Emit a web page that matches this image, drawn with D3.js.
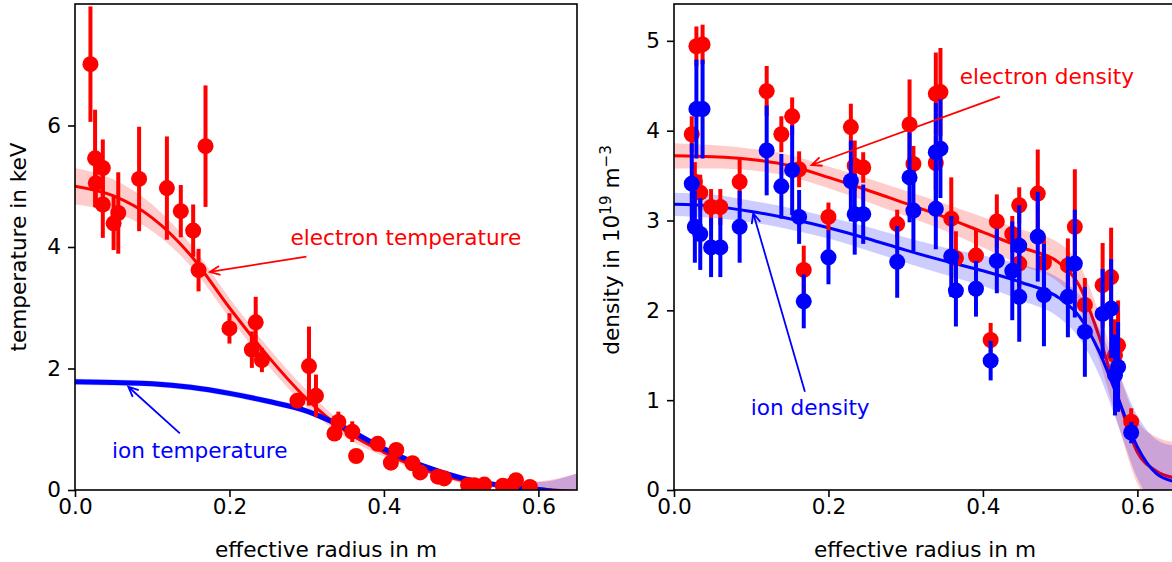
<!DOCTYPE html>
<html>
<head>
<meta charset="utf-8">
<script src="https://cdn.jsdelivr.net/npm/d3@7"></script>
<style>
  body { margin: 0; background: #fff; }
  svg { font-family: "DejaVu Sans", sans-serif; }
</style>
</head>
<body>
<svg id="chart" width="1172" height="562"></svg>
<script>
// ---- left panel: temperatures (keV) ----
const teR   = [0.020, 0.026, 0.036, 0.027, 0.036, 0.050, 0.056, 0.083, 0.119, 0.137, 0.153, 0.169, 0.160, 0.200, 0.234, 0.229, 0.242, 0.303, 0.288, 0.312, 0.341, 0.336, 0.359, 0.364, 0.392, 0.416, 0.409, 0.437, 0.447, 0.470, 0.478, 0.509, 0.517, 0.530, 0.554, 0.565, 0.571, 0.589];
const teVal = [7.01, 5.46, 5.30, 5.05, 4.70, 4.39, 4.56, 5.12, 4.97, 4.59, 4.27, 5.66, 3.62, 2.66, 2.76, 2.31, 2.14, 2.04, 1.47, 1.55, 1.12, 0.93, 0.96, 0.56, 0.76, 0.66, 0.45, 0.44, 0.29, 0.22, 0.19, 0.08, 0.08, 0.09, 0.07, 0.07, 0.16, 0.05];
const teErr = [0.95, 0.80, 0.47, 0.40, 0.55, 0.44, 0.67, 0.86, 0.85, 0.43, 0.43, 1.00, 0.35, 0.25, 0.42, 0.30, 0.20, 0.65, 0.10, 0.35, 0.17, 0.12, 0.17, 0.08, 0.10, 0.10, 0.06, 0.08, 0.06, 0.05, 0.05, 0.04, 0.04, 0.04, 0.04, 0.04, 0.06, 0.03];

const fitR   = [0, 0.05, 0.1, 0.15, 0.2, 0.25, 0.3, 0.35, 0.4, 0.45, 0.5, 0.55, 0.6, 0.65];
const teFit  = [5.00, 4.84, 4.48, 3.86, 3.00, 2.20, 1.50, 0.97, 0.62, 0.34, 0.16, 0.07, 0.02, -0.03];
const teBand = [0.30, 0.27, 0.22, 0.18, 0.16, 0.15, 0.14, 0.10, 0.07, 0.05, 0.04, 0.05, 0.12, 0.30];
const tiFit  = [1.78, 1.77, 1.75, 1.69, 1.59, 1.46, 1.30, 1.02, 0.68, 0.40, 0.20, 0.08, 0.01, -0.08];
const tiBand = [0.05, 0.05, 0.05, 0.05, 0.05, 0.05, 0.05, 0.05, 0.05, 0.04, 0.04, 0.05, 0.12, 0.35];

// ---- right panel: densities (1e19 m^-3) ----
const nR    = [0.023, 0.029, 0.037, 0.027, 0.034, 0.048, 0.060, 0.085, 0.120, 0.139, 0.153, 0.162, 0.168, 0.200, 0.229, 0.234, 0.245, 0.289, 0.305, 0.310, 0.339, 0.345, 0.339, 0.359, 0.365, 0.391, 0.410, 0.418, 0.438, 0.447, 0.447, 0.471, 0.479, 0.510, 0.519, 0.532, 0.555, 0.566, 0.575, 0.571, 0.592];
const neVal = [3.96, 4.94, 4.96, 3.43, 3.31, 3.15, 3.15, 3.43, 4.44, 3.96, 4.16, 3.57, 2.45, 3.04, 4.04, 3.61, 3.59, 2.96, 4.07, 3.63, 4.41, 4.43, 3.64, 3.02, 2.58, 2.61, 1.67, 2.99, 2.85, 3.17, 2.52, 3.30, 2.53, 2.50, 2.93, 2.06, 2.28, 2.37, 1.61, 1.50, 0.76];
const neErr = [0.20, 0.22, 0.22, 0.22, 0.20, 0.20, 0.20, 0.26, 0.28, 0.20, 0.21, 0.20, 0.27, 0.16, 0.26, 0.28, 0.17, 0.16, 0.50, 0.20, 0.46, 0.49, 0.30, 0.46, 0.30, 0.30, 0.19, 0.30, 0.20, 0.20, 0.30, 0.49, 0.30, 0.30, 0.64, 0.30, 0.47, 0.55, 0.50, 0.40, 0.15];
const niVal = [3.41, 4.24, 4.24, 2.93, 2.85, 2.70, 2.70, 2.93, 3.78, 3.38, 3.56, 3.04, 2.10, 2.59, 3.44, 3.07, 3.07, 2.54, 3.48, 3.11, 3.76, 3.80, 3.13, 2.60, 2.22, 2.24, 1.44, 2.55, 2.44, 2.72, 2.15, 2.82, 2.17, 2.15, 2.52, 1.76, 1.96, 2.02, 1.37, 1.28, 0.64];
const niErr = [0.45, 0.55, 0.55, 0.40, 0.40, 0.33, 0.33, 0.40, 0.50, 0.36, 0.50, 0.30, 0.30, 0.30, 0.45, 0.45, 0.33, 0.40, 0.50, 0.45, 0.55, 0.55, 0.45, 0.45, 0.40, 0.31, 0.22, 0.36, 0.55, 0.45, 0.50, 0.50, 0.57, 0.45, 0.60, 0.50, 0.50, 0.55, 0.50, 0.45, 0.12];

const fitR2  = [0, 0.05, 0.1, 0.15, 0.2, 0.25, 0.3, 0.35, 0.4, 0.45, 0.5, 0.525, 0.55, 0.575, 0.6, 0.625, 0.65];
const neFit  = [3.72, 3.71, 3.68, 3.61, 3.48, 3.34, 3.19, 3.04, 2.87, 2.70, 2.52, 2.27, 1.72, 1.03, 0.42, 0.21, 0.13];
const neBand = [0.14, 0.13, 0.12, 0.12, 0.12, 0.13, 0.14, 0.15, 0.17, 0.20, 0.22, 0.24, 0.26, 0.30, 0.35, 0.38, 0.40];
const niFit  = [3.18, 3.16, 3.10, 3.02, 2.92, 2.80, 2.67, 2.55, 2.44, 2.31, 2.13, 1.93, 1.55, 1.02, 0.48, 0.18, 0.09];
const niBand = [0.13, 0.13, 0.12, 0.12, 0.12, 0.13, 0.14, 0.15, 0.17, 0.20, 0.22, 0.24, 0.26, 0.30, 0.35, 0.38, 0.40];

const xTicks = [0, 0.2, 0.4, 0.6];
const tTicks = [0, 2, 4, 6];
const nTicks = [0, 1, 2, 3, 4, 5];

const RED = '#ff0000', BLUE = '#0000ff';
const FONT = 21.6;

const svg = d3.select('#chart');
const defs = svg.append('defs');

const xL = d3.scaleLinear().domain([0, 0.65]).range([75, 577]);
const yL = d3.scaleLinear().domain([0, 8]).range([490, 4]);
const xR = d3.scaleLinear().domain([0, 0.65]).range([674, 1176]);
const yR = d3.scaleLinear().domain([0, 5.41]).range([490, 4]);

function makePanel(id, x, y) {
  defs.append('clipPath').attr('id', id)
    .append('rect')
    .attr('x', x.range()[0]).attr('y', y.range()[1])
    .attr('width', x.range()[1] - x.range()[0])
    .attr('height', y.range()[0] - y.range()[1]);
  return svg.append('g').attr('clip-path', `url(#${id})`);
}

function drawFit(g, x, y, rs, vals, band, color, lw = 3) {
  const pts = rs.map((r, i) => ({ r, v: vals[i], b: band[i] }));
  g.append('path').datum(pts)
    .attr('fill', color).attr('fill-opacity', 0.2)
    .attr('d', d3.area().x(d => x(d.r)).y0(d => y(d.v - d.b)).y1(d => y(d.v + d.b)).curve(d3.curveMonotoneX));
  g.append('path').datum(pts)
    .attr('fill', 'none').attr('stroke', color).attr('stroke-width', lw)
    .attr('d', d3.line().x(d => x(d.r)).y(d => y(d.v)).curve(d3.curveMonotoneX));
}

function drawPoints(g, x, y, rs, vals, errs, color) {
  const pts = rs.map((r, i) => ({ r, v: vals[i], e: errs[i] }));
  const gg = g.append('g');
  gg.selectAll('line').data(pts).join('line')
    .attr('x1', d => x(d.r)).attr('x2', d => x(d.r))
    .attr('y1', d => y(d.v - d.e)).attr('y2', d => y(d.v + d.e))
    .attr('stroke', color).attr('stroke-width', 4);
  gg.selectAll('circle').data(pts).join('circle')
    .attr('cx', d => x(d.r)).attr('cy', d => y(d.v)).attr('r', 8)
    .attr('fill', color);
}

function drawAxes(x, y, yTickVals) {
  const gx = svg.append('g').attr('transform', `translate(0,${y.range()[0]})`)
    .call(d3.axisBottom(x).tickValues(xTicks).tickFormat(d3.format('.1f')).tickSize(7).tickSizeOuter(0).tickPadding(2));
  const gy = svg.append('g').attr('transform', `translate(${x.range()[0]},0)`)
    .call(d3.axisLeft(y).tickValues(yTickVals).tickFormat(d3.format('d')).tickSize(7).tickSizeOuter(0).tickPadding(7));
  [gx, gy].forEach(g => {
    g.attr('font-family', null).attr('font-size', FONT);
    g.selectAll('line').attr('stroke-width', 1.6);
    g.select('.domain').remove();
  });
  svg.append('rect')
    .attr('x', x.range()[0]).attr('y', y.range()[1])
    .attr('width', x.range()[1] - x.range()[0])
    .attr('height', y.range()[0] - y.range()[1])
    .attr('fill', 'none').attr('stroke', '#000').attr('stroke-width', 1.6);
  svg.append('text')
    .attr('x', (x.range()[0] + x.range()[1]) / 2)
    .attr('y', 557).attr('text-anchor', 'middle').attr('font-size', FONT)
    .text('effective radius in m');
}

function arrow(x, y, t0, t1, h0, h1, color) {
  const x1 = x(t0), y1 = y(t1), x2 = x(h0), y2 = y(h1);
  const a = Math.atan2(y2 - y1, x2 - x1), L = 11, w = 0.42;
  const p = d3.path();
  p.moveTo(x1, y1); p.lineTo(x2, y2);
  p.moveTo(x2 - L * Math.cos(a - w), y2 - L * Math.sin(a - w));
  p.lineTo(x2, y2);
  p.lineTo(x2 - L * Math.cos(a + w), y2 - L * Math.sin(a + w));
  svg.append('path').attr('d', p.toString())
    .attr('fill', 'none').attr('stroke', color).attr('stroke-width', 1.8);
}

function label(x, y, r, v, txt, color) {
  svg.append('text').attr('x', x(r)).attr('y', y(v))
    .attr('font-size', FONT).attr('fill', color).text(txt);
}

// left panel
const gL = makePanel('clipL', xL, yL);
drawFit(gL, xL, yL, fitR, teFit, teBand, RED);
drawFit(gL, xL, yL, fitR, tiFit, tiBand, BLUE, 5);
drawPoints(gL, xL, yL, teR, teVal, teErr, RED);
drawAxes(xL, yL, tTicks);
svg.append('text')
  .attr('transform', `translate(26,${(yL.range()[0] + yL.range()[1]) / 2}) rotate(-90)`)
  .attr('text-anchor', 'middle').attr('font-size', FONT)
  .text('temperature in keV');
label(xL, yL, 0.279, 4.03, 'electron temperature', RED);
arrow(xL, yL, 0.2996, 3.84, 0.1746, 3.59, RED);
label(xL, yL, 0.048, 0.527, 'ion temperature', BLUE);
arrow(xL, yL, 0.1358, 0.933, 0.069, 1.70, BLUE);

// right panel
const gR = makePanel('clipR', xR, yR);
drawFit(gR, xR, yR, fitR2, neFit, neBand, RED);
drawFit(gR, xR, yR, fitR2, niFit, niBand, BLUE);
drawPoints(gR, xR, yR, nR, neVal, neErr, RED);
drawPoints(gR, xR, yR, nR, niVal, niErr, BLUE);
drawAxes(xR, yR, nTicks);
const yl = svg.append('text')
  .attr('transform', `translate(619,${(yR.range()[0] + yR.range()[1]) / 2 + 3}) rotate(-90)`)
  .attr('text-anchor', 'middle').attr('font-size', FONT);
yl.append('tspan').text('density in 10');
yl.append('tspan').attr('font-size', FONT * 0.7).attr('dy', -8).text('19');
yl.append('tspan').attr('dy', 8).text(' m');
yl.append('tspan').attr('font-size', FONT * 0.7).attr('dy', -8).text('\u22123');
label(xR, yR, 0.370, 4.52, 'electron density', RED);
arrow(xR, yR, 0.4218, 4.378, 0.1782, 3.618, RED);
label(xR, yR, 0.0993, 0.835, 'ion density', BLUE);
arrow(xR, yR, 0.1695, 1.094, 0.1026, 3.08, BLUE);
</script>
</body>
</html>
